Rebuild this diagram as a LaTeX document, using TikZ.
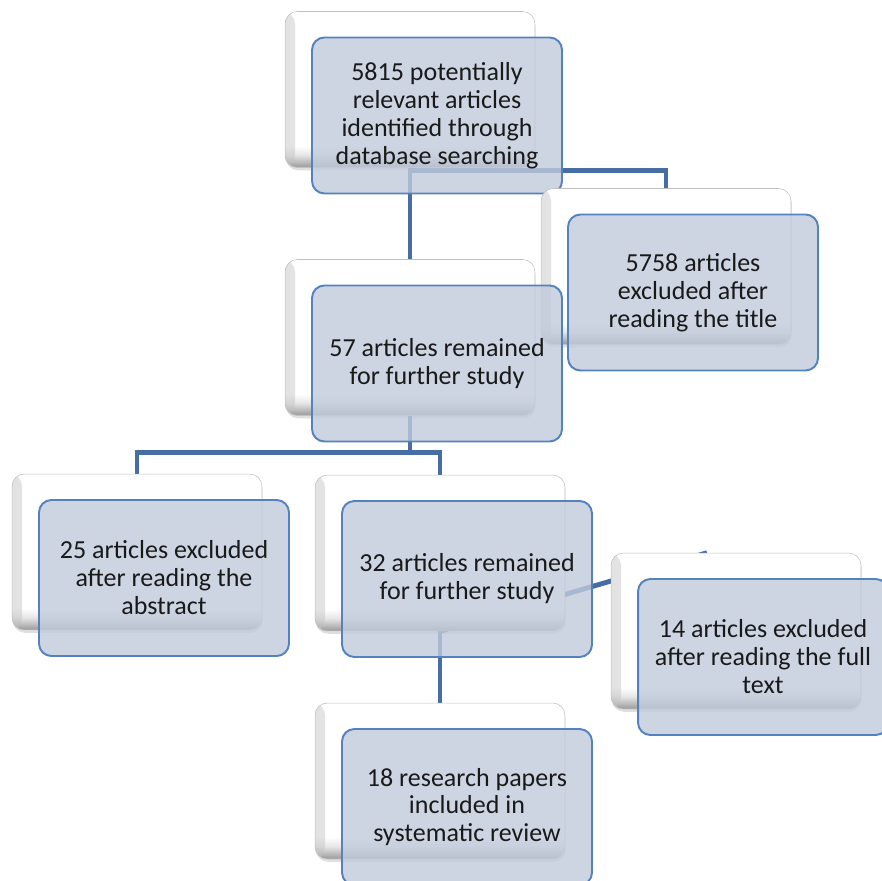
\documentclass[tikz,border=0pt]{standalone}
\usepackage{fontspec}
\setmainfont{Carlito}
\usepackage{tikz}
\usetikzlibrary{positioning,shadows,backgrounds}
\definecolor{cardblue}{RGB}{193,203,220}
\definecolor{cardedge}{RGB}{84,130,190}
\definecolor{linkblue}{RGB}{70,110,165}
\pgfdeclareverticalshading{cardshade}{100bp}{color(0bp)=(black!40); color(25bp)=(black!40); color(29bp)=(black!10); color(32bp)=(white); color(100bp)=(white)}

\begin{document}
\begin{tikzpicture}[
  x=0.02cm, y=-0.02cm,
  backcard/.style={rectangle, rounded corners=7pt, draw=black!25, shading=cardshade,
    minimum width=5cm, minimum height=3.12cm, line width=0.3pt,
    drop shadow={shadow xshift=0.4pt, shadow yshift=-1.6pt, opacity=0.25},
    path picture={\shade[left color=black!25, right color=white, opacity=0.45]
      (path picture bounding box.south west) rectangle
      ([xshift=0.2cm]path picture bounding box.north west);}},
  frontcard/.style={rectangle, rounded corners=7pt, draw=cardedge, fill=cardblue,
    fill opacity=0.8, text opacity=1, minimum width=5cm, minimum height=3.12cm,
    font=\fontsize{14.8}{15.9}\selectfont, text=black!90, align=center,
    line width=1.1pt},
  link/.style={linkblue, line width=2.8pt}
]
\clip (0,0) rectangle (882,881);

% Search
\node[backcard] (search) at (410,89.5) {};
\node[frontcard] (search_t) at ([shift={(27,26)}]search.center) {5815 potentially\\relevant articles\\identified through\\database searching};

% Excluded by title
\node[backcard] (title) at (666,266.5) {};
\node[frontcard] (title_t) at ([shift={(27,26)}]title.center) {5758 articles\\excluded after\\reading the title};

% First screening
\node[backcard] (remain1) at (410,337.5) {};
\node[frontcard] (remain1_t) at ([shift={(27,26)}]remain1.center) {57 articles remained\\for further study};

% Excluded by abstract
\node[backcard] (abstract) at (137,552) {};
\node[frontcard] (abstract_t) at ([shift={(27,26)}]abstract.center) {25 articles excluded\\after reading the\\abstract};

% Second screening
\node[backcard] (remain2) at (440,553) {};
\node[frontcard] (remain2_t) at ([shift={(27,26)}]remain2.center) {32 articles remained\\for further study};

% Excluded by full text
\node[backcard] (fulltext) at (736,631) {};
\node[frontcard] (fulltext_t) at ([shift={(27,26)}]fulltext.center) {14 articles excluded\\after reading the full\\text};

% Included
\node[backcard] (review) at (440,781) {};
\node[frontcard] (review_t) at ([shift={(27,26)}]review.center) {18 research papers\\included in\\systematic review};

% connectors behind the cards
\begin{scope}[on background layer]
\draw[link] (search.south) -- (remain1.north);
\draw[link] (search.south) -- ++(0,3) -| (title.north);
\coordinate (split) at ([shift={(0,37)}]remain1.south);
\draw[link] (remain1.south) -- (split) -| (abstract.north);
\draw[link] (split) -| (remain2.north);
\draw[link] (remain2.south) -- (review.north);
\coordinate (ft_in) at ([shift={(-29,0)}]fulltext.north);
\draw[link] (remain2.south) -- (ft_in);
\end{scope}

\end{tikzpicture}
\end{document}
